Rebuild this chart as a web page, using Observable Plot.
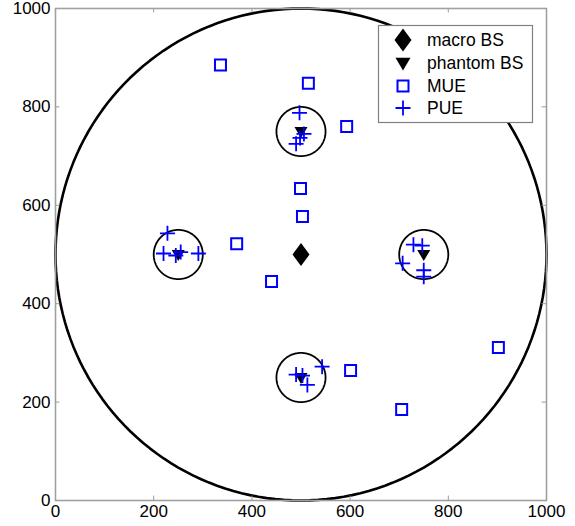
<!DOCTYPE html>
<html>
<head>
<meta charset="utf-8">
<script src="https://cdn.jsdelivr.net/npm/d3@7"></script>
<script src="https://cdn.jsdelivr.net/npm/@observablehq/plot@0.6"></script>
<style>
  html, body { margin: 0; padding: 0; background: #fff; }
  #chart { position: relative; width: 575px; height: 526px; }
</style>
</head>
<body>
<div id="chart"></div>
<script>
// ---- data ----
const macroBS = [{x: 500, y: 500}];
const phantomBS = [
  {x: 500, y: 750}, {x: 250, y: 500}, {x: 750, y: 500}, {x: 500, y: 250}
];
const cellCircles = [
  {cx: 500, cy: 500, r: 500, id: "macro"},
  {cx: 500, cy: 750, r: 50, id: "p1"},
  {cx: 250, cy: 500, r: 50, id: "p2"},
  {cx: 750, cy: 500, r: 50, id: "p3"},
  {cx: 500, cy: 250, r: 50, id: "p4"}
];
const mue = [
  {x: 336, y: 885}, {x: 515, y: 848}, {x: 593, y: 760}, {x: 499, y: 634},
  {x: 503, y: 577}, {x: 369, y: 522}, {x: 440, y: 445}, {x: 601, y: 264},
  {x: 705, y: 185}, {x: 902, y: 311}
];
const pue = [
  {x: 497, y: 788}, {x: 506, y: 745}, {x: 498, y: 737}, {x: 490, y: 725},
  {x: 228, y: 543}, {x: 220, y: 502}, {x: 245, y: 498}, {x: 255, y: 505}, {x: 291, y: 502},
  {x: 729, y: 520}, {x: 747, y: 518}, {x: 707, y: 482}, {x: 750, y: 468}, {x: 750, y: 455},
  {x: 490, y: 256}, {x: 503, y: 254}, {x: 513, y: 235}, {x: 543, y: 272}
];
const ticks = [0, 200, 400, 600, 800, 1000];
const legendLabels = ["macro BS", "phantom BS", "MUE", "PUE"];

// ---- circle outlines (centre + radius through the scales) ----
const angles = d3.range(0, 361, 2);
const circlePts = cellCircles.flatMap(c =>
  angles.map(a => ({
    id: c.id,
    big: c.id === "macro",
    x: c.cx + c.r * Math.cos(a * Math.PI / 180),
    y: c.cy + c.r * Math.sin(a * Math.PI / 180)
  }))
);

// ---- custom symbols ----
const tallDiamond = {draw(ctx, size) {
  const r = Math.sqrt(size / Math.PI);
  const hw = r * 0.74, hh = r;
  ctx.moveTo(0, -hh); ctx.lineTo(hw, 0); ctx.lineTo(0, hh); ctx.lineTo(-hw, 0); ctx.closePath();
}};
const triDown = {draw(ctx, size) {
  const r = Math.sqrt(size / Math.PI);
  ctx.moveTo(-r, -r * 0.7); ctx.lineTo(r, -r * 0.7); ctx.lineTo(0, r); ctx.closePath();
}};
const plusLine = {draw(ctx, size) {
  const r = Math.sqrt(size / Math.PI);
  ctx.moveTo(-r, 0); ctx.lineTo(r, 0); ctx.moveTo(0, -r); ctx.lineTo(0, r);
}};

const blue = "#0000ff";
const font = "'Liberation Sans', Arial, Helvetica, sans-serif";
const tickLen = 9; // data units for the small inward ticks

const plot = Plot.plot({
  width: 575,
  height: 526,
  marginLeft: 55,
  marginRight: 29,
  marginTop: 8,
  marginBottom: 26,
  style: {fontFamily: font, fontSize: "17px", color: "#000", background: "#fff"},
  x: {domain: [0, 1000], ticks: ticks, tickSize: 0, tickPadding: 4, label: null, tickFormat: d => String(d)},
  y: {domain: [0, 1000], ticks: ticks, tickSize: 0, tickPadding: 5, label: null, tickFormat: d => String(d)},
  marks: [
    Plot.line(circlePts.filter(d => d.big), {x: "x", y: "y", z: "id", stroke: "#000", strokeWidth: 2.6}),
    Plot.line(circlePts.filter(d => !d.big), {x: "x", y: "y", z: "id", stroke: "#000", strokeWidth: 1.8}),
    Plot.ruleX(ticks, {x: d => d, y1: 0, y2: tickLen, stroke: "#999", strokeWidth: 1}),
    Plot.ruleX(ticks, {x: d => d, y1: 1000 - tickLen, y2: 1000, stroke: "#999", strokeWidth: 1}),
    Plot.ruleY(ticks, {y: d => d, x1: 0, x2: tickLen, stroke: "#999", strokeWidth: 1}),
    Plot.ruleY(ticks, {y: d => d, x1: 1000 - tickLen, x2: 1000, stroke: "#999", strokeWidth: 1}),
    Plot.frame({stroke: "#a0a0a0", strokeWidth: 1.6}),
    Plot.dot(macroBS, {x: "x", y: "y", symbol: tallDiamond, r: 11.5, fill: "#000", stroke: "none"}),
    Plot.dot(phantomBS, {x: "x", y: "y", symbol: triDown, r: 6.5, fill: "#000", stroke: "none"}),
    Plot.dot(mue, {x: "x", y: "y", symbol: "square", r: 6.2, fill: "none", stroke: blue, strokeWidth: 2}),
    Plot.dot(pue, {x: "x", y: "y", symbol: plusLine, r: 7.5, fill: "none", stroke: blue, strokeWidth: 1.8})
  ]
});

document.getElementById("chart").appendChild(plot);

// ---- legend box ----
const svg = d3.select(plot);
const lg = svg.append("g").attr("font-family", font).attr("font-size", 17.5).attr("text-anchor", "start");
lg.append("rect").attr("x", 378.5).attr("y", 25.5).attr("width", 154).attr("height", 97)
  .attr("fill", "#fff").attr("stroke", "#808080").attr("stroke-width", 1.2);
const rowY = [40, 63, 86, 108];
const symSpecs = [
  {sym: tallDiamond, size: Math.PI * 11.5 * 11.5, fill: "#000", stroke: "none", sw: 0},
  {sym: triDown, size: Math.PI * 7.5 * 7.5, fill: "#000", stroke: "none", sw: 0},
  {sym: d3.symbolSquare, size: Math.PI * 6.2 * 6.2, fill: "none", stroke: blue, sw: 2},
  {sym: plusLine, size: Math.PI * 7.5 * 7.5, fill: "none", stroke: blue, sw: 1.8}
];
legendLabels.forEach((lab, i) => {
  const s = symSpecs[i];
  lg.append("path")
    .attr("d", d3.symbol(s.sym, s.size)())
    .attr("transform", `translate(403,${rowY[i]})`)
    .attr("fill", s.fill).attr("stroke", s.stroke).attr("stroke-width", s.sw);
  lg.append("text").attr("x", 427).attr("y", rowY[i]).attr("dy", "0.35em")
    .attr("text-anchor", "start").attr("fill", "#000").text(lab);
});
</script>
</body>
</html>
